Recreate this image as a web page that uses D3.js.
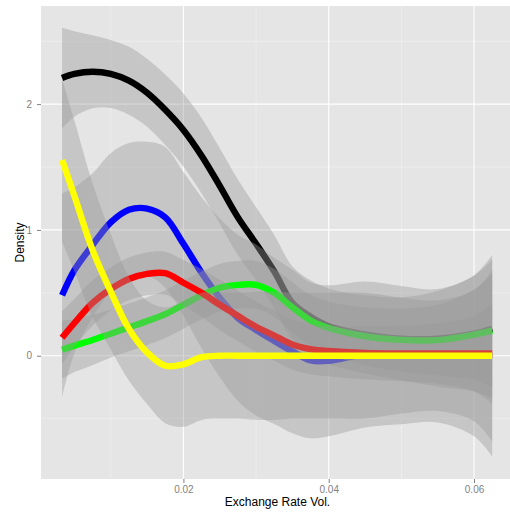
<!DOCTYPE html>
<html>
<head>
<meta charset="utf-8">
<script src="https://cdn.jsdelivr.net/npm/d3@7"></script>
<style>
  body { margin: 0; background: #ffffff; }
  svg { display: block; }
</style>
</head>
<body>
<svg id="chart" width="510" height="513"></svg>
<script>
// Exchange-rate volatility grid shared by every smoothed density curve
const volGrid = [0.0033, 0.005, 0.0075, 0.01, 0.0125, 0.015, 0.0175, 0.02, 0.0225, 0.025,
                 0.0275, 0.03, 0.0325, 0.035, 0.0375, 0.04, 0.045, 0.05, 0.055, 0.06, 0.0625];

// Smoothed density (fit) with its confidence band (lo / hi) per group
const blackFit = [2.207, 2.24, 2.257, 2.24, 2.186, 2.09, 1.955, 1.795, 1.59, 1.35, 1.10, 0.89, 0.67, 0.42, 0.31, 0.235, 0.17, 0.135, 0.135, 0.175, 0.215];
const blackHi  = [2.607, 2.58, 2.547, 2.51, 2.456, 2.36, 2.235, 2.085, 1.89, 1.65, 1.40, 1.18, 0.96, 0.71, 0.60, 0.535, 0.48, 0.465, 0.515, 0.635, 0.765];
const blackLo  = [1.807, 1.90, 1.967, 1.97, 1.916, 1.82, 1.675, 1.505, 1.29, 1.05, 0.80, 0.60, 0.38, 0.13, 0.02, -0.065, -0.14, -0.195, -0.245, -0.285, -0.335];

const blueFit = [0.48, 0.68, 0.88, 1.06, 1.16, 1.17, 1.10, 0.89, 0.66, 0.46, 0.30, 0.205, 0.118, 0.034, -0.037, -0.04, 0.01, 0.005, 0.0, 0.0, 0.0];
const blueHi  = [1.29, 1.34, 1.45, 1.61, 1.69, 1.70, 1.66, 1.46, 1.26, 1.09, 0.96, 0.885, 0.778, 0.684, 0.583, 0.56, 0.59, 0.555, 0.53, 0.64, 0.80];
const blueLo  = [-0.33, 0.02, 0.31, 0.51, 0.63, 0.64, 0.54, 0.32, 0.06, -0.17, -0.36, -0.475, -0.542, -0.616, -0.657, -0.64, -0.57, -0.545, -0.53, -0.64, -0.80];

const greenFit = [0.048, 0.08, 0.125, 0.175, 0.225, 0.275, 0.33, 0.405, 0.48, 0.54, 0.563, 0.563, 0.50, 0.385, 0.28, 0.22, 0.155, 0.126, 0.124, 0.168, 0.20];
const greenHi  = [0.278, 0.29, 0.325, 0.365, 0.415, 0.465, 0.52, 0.595, 0.67, 0.73, 0.753, 0.753, 0.69, 0.585, 0.48, 0.43, 0.385, 0.376, 0.404, 0.528, 0.65];
const greenLo  = [-0.182, -0.13, -0.075, -0.015, 0.035, 0.085, 0.14, 0.215, 0.29, 0.35, 0.373, 0.373, 0.31, 0.185, 0.08, 0.01, -0.075, -0.124, -0.156, -0.192, -0.25];

const redFit = [0.143, 0.26, 0.42, 0.53, 0.61, 0.65, 0.656, 0.58, 0.50, 0.405, 0.317, 0.23, 0.16, 0.09, 0.053, 0.037, 0.022, 0.018, 0.018, 0.018, 0.018];
const redHi  = [0.353, 0.45, 0.60, 0.70, 0.78, 0.82, 0.826, 0.76, 0.69, 0.605, 0.517, 0.43, 0.36, 0.29, 0.253, 0.237, 0.232, 0.238, 0.258, 0.318, 0.418];
const redLo  = [-0.067, 0.07, 0.24, 0.36, 0.44, 0.48, 0.486, 0.40, 0.31, 0.205, 0.117, 0.03, -0.04, -0.11, -0.147, -0.163, -0.188, -0.202, -0.222, -0.282, -0.382];

const yellowFit = [1.556, 1.27, 0.84, 0.51, 0.213, 0.026, -0.08, -0.068, -0.012, 0.0, 0.0, 0.0, 0.0, 0.0, 0.0, 0.0, 0.0, 0.0, 0.0, 0.0, 0.0];
const yellowHi  = [2.20, 1.87, 1.37, 0.97, 0.623, 0.436, 0.384, 0.435, 0.50, 0.50, 0.50, 0.51, 0.51, 0.50, 0.50, 0.50, 0.50, 0.46, 0.44, 0.52, 0.68];
const yellowLo  = [0.91, 0.67, 0.31, 0.05, -0.197, -0.384, -0.536, -0.565, -0.51, -0.50, -0.50, -0.51, -0.51, -0.50, -0.50, -0.50, -0.50, -0.46, -0.44, -0.52, -0.68];

// Group drawing order (later groups are layered on top) and their line colours
const groupColors = ["#000000", "#0000ff", "#00ff00", "#ff0000", "#ffff00"];
const groupFits = [blackFit, blueFit, greenFit, redFit, yellowFit];
const groupHis  = [blackHi, blueHi, greenHi, redHi, yellowHi];
const groupLos  = [blackLo, blueLo, greenLo, redLo, yellowLo];

// Axis ticks
const xMajor = [0.02, 0.04, 0.06];
const xMinor = [0.01, 0.03, 0.05];
const yMajor = [0, 1, 2];
const yMinor = [-0.5, 0.5, 1.5, 2.5];
const xLabel = "Exchange Rate Vol.";
const yLabel = "Density";

const panel = { left: 41, right: 514, top: 6, bottom: 479 };
const x = d3.scaleLinear().domain([0.0004, 0.0655]).range([panel.left, panel.right]);
const y = d3.scaleLinear().domain([-0.98, 2.78]).range([panel.bottom, panel.top]);

const svg = d3.select("#chart");
const font = "'Liberation Sans', Arial, Helvetica, sans-serif";

// Panel background
svg.append("rect")
  .attr("x", panel.left).attr("y", panel.top)
  .attr("width", panel.right - panel.left).attr("height", panel.bottom - panel.top)
  .attr("fill", "#e5e5e5");

// Grid lines: minor first, then major
const grid = svg.append("g");
grid.selectAll("line.xmin").data(xMinor).join("line")
  .attr("x1", d => x(d)).attr("x2", d => x(d))
  .attr("y1", panel.top).attr("y2", panel.bottom)
  .attr("stroke", "#f2f2f2").attr("stroke-width", 0.6);
grid.selectAll("line.ymin").data(yMinor).join("line")
  .attr("y1", d => y(d)).attr("y2", d => y(d))
  .attr("x1", panel.left).attr("x2", panel.right)
  .attr("stroke", "#f2f2f2").attr("stroke-width", 0.6);
grid.selectAll("line.xmaj").data(xMajor).join("line")
  .attr("x1", d => x(d)).attr("x2", d => x(d))
  .attr("y1", panel.top).attr("y2", panel.bottom)
  .attr("stroke", "#ffffff").attr("stroke-width", 1.1);
grid.selectAll("line.ymaj").data(yMajor).join("line")
  .attr("y1", d => y(d)).attr("y2", d => y(d))
  .attr("x1", panel.left).attr("x2", panel.right)
  .attr("stroke", "#ffffff").attr("stroke-width", 1.1);

// Smoothed curves with confidence ribbons
const curve = d3.curveCatmullRom.alpha(0.5);
const band = d3.area()
  .x(d => x(d.v)).y0(d => y(d.lo)).y1(d => y(d.hi)).curve(curve);
const line = d3.line()
  .x(d => x(d.v)).y(d => y(d.fit)).curve(curve);

const layers = svg.append("g");
groupColors.forEach((color, i) => {
  const rows = volGrid.map((v, j) => ({
    v, fit: groupFits[i][j], lo: groupLos[i][j], hi: groupHis[i][j]
  }));
  layers.append("path")
    .attr("d", band(rows))
    .attr("fill", "#999999").attr("fill-opacity", 0.4).attr("stroke", "none");
  layers.append("path")
    .attr("d", line(rows))
    .attr("fill", "none").attr("stroke", color)
    .attr("stroke-width", 6.4).attr("stroke-linecap", "butt").attr("stroke-linejoin", "round");
});

// Axes
const xAxis = svg.append("g")
  .attr("transform", `translate(0,${panel.bottom})`)
  .call(d3.axisBottom(x).tickValues(xMajor).tickFormat(d3.format(".2f")).tickSize(4).tickPadding(3));
const yAxis = svg.append("g")
  .attr("transform", `translate(${panel.left},0)`)
  .call(d3.axisLeft(y).tickValues(yMajor).tickFormat(d3.format("d")).tickSize(4).tickPadding(5));
[xAxis, yAxis].forEach(g => {
  g.select(".domain").remove();
  g.selectAll(".tick line").attr("stroke", "#7f7f7f");
  g.selectAll(".tick text").attr("fill", "#7f7f7f")
    .style("font-family", font).style("font-size", "10px");
});

// Axis titles
svg.append("text")
  .attr("x", (panel.left + panel.right) / 2).attr("y", 506)
  .attr("text-anchor", "middle")
  .style("font-family", font).style("font-size", "12px").attr("fill", "#000")
  .text(xLabel);
svg.append("text")
  .attr("transform", `translate(23.5,${(panel.top + panel.bottom) / 2}) rotate(-90)`)
  .attr("text-anchor", "middle")
  .style("font-family", font).style("font-size", "12px").attr("fill", "#000")
  .text(yLabel);
</script>
</body>
</html>
